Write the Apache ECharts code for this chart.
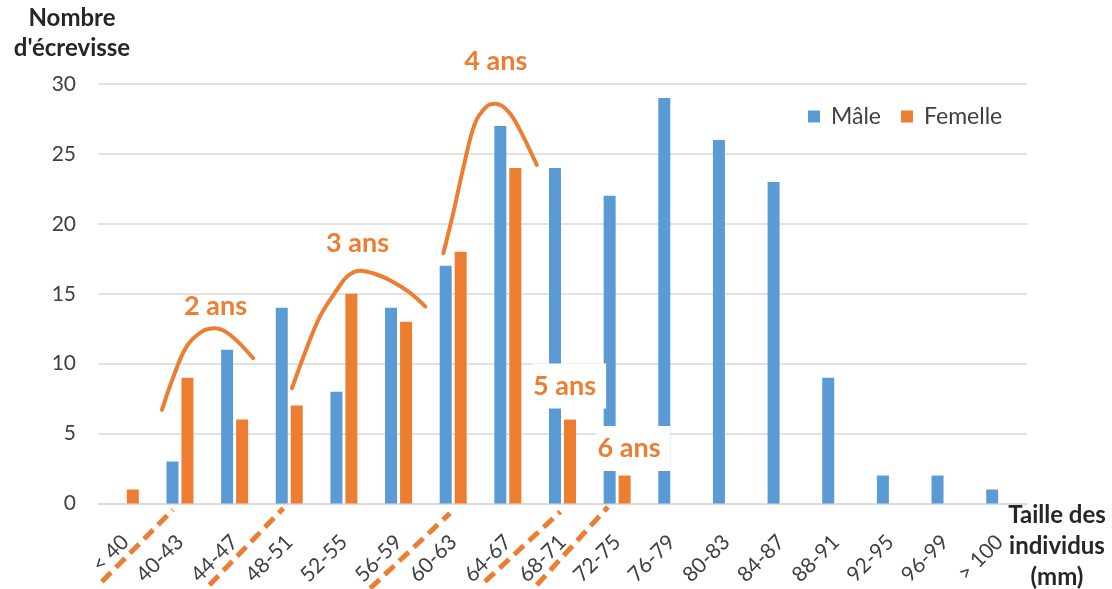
<!DOCTYPE html>
<html>
<head>
<meta charset="utf-8">
<script src="https://cdn.jsdelivr.net/npm/echarts@6/dist/echarts.min.js"></script>
<style>
  html, body { margin: 0; padding: 0; background: #ffffff; }
  #chart { width: 1112px; height: 589px; }
</style>
</head>
<body>
<div id="chart"></div>
<script>
// Size classes (mm) and crayfish counts per sex
const categories = ['< 40', '40-43', '44-47', '48-51', '52-55', '56-59', '60-63', '64-67', '68-71',
  '72-75', '76-79', '80-83', '84-87', '88-91', '92-95', '96-99', '> 100'];
const maleCounts   = [0, 3, 11, 14, 8, 14, 17, 27, 24, 22, 29, 26, 23, 9, 2, 2, 1];
const femaleCounts = [1, 9, 6, 7, 15, 13, 18, 24, 6, 2, 0, 0, 0, 0, 0, 0, 0];
const seriesNames = ['Mâle', 'Femelle'];

// Count axis
const yMin = 0, yMax = 30, yStep = 5;

// Age-class annotations, in data space: x = category index, y = count
const ageLabels = ['2 ans', '3 ans', '4 ans', '5 ans', '6 ans'];
const ageLabelPos = [[1.65, 14.1], [4.25, 18.6], [6.78, 31.6], [8.12, 8.4], [9.3, 3.93]];
const ageLabelBoxed = [false, false, false, true, true];

// Hand-drawn cohort humps
const cohortArcs = [
  [[0.67, 6.69], [0.88, 9.07], [1.12, 11.22], [1.40, 12.29], [1.64, 12.53], [1.92, 12.05], [2.34, 10.39]],
  [[3.05, 8.24], [3.26, 10.5], [3.56, 13.36], [3.87, 15.27], [4.08, 16.3], [4.30, 16.65], [4.55, 16.45],
   [4.85, 15.95], [5.20, 15.1], [5.49, 14.08]],
  [[5.82, 17.9], [6.00, 20.76], [6.19, 24.09], [6.40, 27.2], [6.61, 28.38], [6.77, 28.58], [7.01, 28.03],
   [7.22, 26.72], [7.53, 24.21]]
];

// Dashed separators between age classes, drawn across the size labels
const ageSeparators = [
  [[-0.43, -5.59], [0.87, -0.46]],
  [[1.54, -5.83], [2.89, -0.34]],
  [[4.48, -6.07], [5.94, -0.70]],
  [[6.58, -5.59], [7.96, -0.59]],
  [[7.53, -5.83], [8.83, -0.25]]
];

const BLUE = '#5B9BD5';
const ORANGE = '#ED7D31';
const FONT = 'Lato';

const chart = echarts.init(document.getElementById('chart'), null, { renderer: 'canvas' });

const annotationSeries = [];
cohortArcs.forEach(function (pts) {
  annotationSeries.push({
    type: 'line', xAxisIndex: 1, yAxisIndex: 0, data: pts, smooth: 0.35,
    symbol: 'none', clip: false, silent: true, z: 6,
    lineStyle: { color: ORANGE, width: 4, cap: 'round' }
  });
});
ageSeparators.forEach(function (pts) {
  annotationSeries.push({
    type: 'line', xAxisIndex: 1, yAxisIndex: 0, data: pts,
    symbol: 'none', clip: false, silent: true, z: 6,
    lineStyle: { color: ORANGE, width: 5, type: [13, 7], cap: 'butt' }
  });
});
annotationSeries.push({
  type: 'scatter', xAxisIndex: 1, yAxisIndex: 0, symbolSize: 0, clip: false, silent: true, z: 10,
  itemStyle: { opacity: 1 },
  data: ageLabels.map(function (t, k) {
    return {
      name: t, value: ageLabelPos[k],
      label: ageLabelBoxed[k]
        ? { backgroundColor: '#ffffff', padding: [8, 10, 10, 1] }
        : { backgroundColor: 'transparent', padding: 0 }
    };
  }),
  label: {
    show: true, position: 'inside', opacity: 1, formatter: function (p) { return p.name; },
    color: ORANGE, fontFamily: FONT, fontWeight: 'bold', fontSize: 27
  }
});

const option = {
  backgroundColor: '#ffffff',
  animation: false,
  grid: { left: 98, right: 85, top: 84, bottom: 85.5, outerBoundsMode: 'none', containLabel: false },
  legend: {
    data: seriesNames, left: 803, top: 100, icon: 'rect', itemWidth: 12, itemHeight: 12, itemGap: 20,
    selectedMode: false,
    textStyle: { fontFamily: FONT, fontSize: 23, color: '#404040', padding: [0, 0, 0, 6] }
  },
  xAxis: [
    {
      type: 'category', data: categories, boundaryGap: true,
      axisLine: { show: true, lineStyle: { color: '#d9d9d9', width: 1.5 } },
      axisTick: { show: false },
      axisLabel: { interval: 0, rotate: 45, margin: 35, fontFamily: FONT, fontSize: 21, color: '#404040' },
      splitLine: { show: false }
    },
    { type: 'value', min: -0.5, max: categories.length - 0.5, show: false, splitLine: { show: false } }
  ],
  yAxis: {
    type: 'value', min: yMin, max: yMax, interval: yStep,
    axisLine: { show: false }, axisTick: { show: false },
    axisLabel: { margin: 22, padding: [0, 0, 5, 0], fontFamily: FONT, fontSize: 21, color: '#404040' },
    splitLine: { lineStyle: { color: '#d9d9d9', width: 1.5 } }
  },
  graphic: [
    {
      type: 'text', silent: true,
      style: { text: "Nombre\nd'écrevisse", x: 72, y: 33, align: 'center', verticalAlign: 'middle',
        font: 'bold 24px Lato', lineHeight: 30, fill: '#262626' }
    },
    {
      type: 'text', silent: true,
      style: { text: 'Taille des\nindividus\n(mm)', x: 1057, y: 546, align: 'center', verticalAlign: 'middle',
        font: 'bold 24px Lato', lineHeight: 31, fill: '#262626' }
    }
  ],
  series: [
    { name: seriesNames[0], type: 'bar', data: maleCounts, barWidth: 12, barGap: '25%',
      itemStyle: { color: BLUE }, z: 2 },
    { name: seriesNames[1], type: 'bar', data: femaleCounts, barWidth: 12, barGap: '25%',
      itemStyle: { color: ORANGE }, z: 2 }
  ].concat(annotationSeries)
};

chart.setOption(option);
</script>
</body>
</html>
